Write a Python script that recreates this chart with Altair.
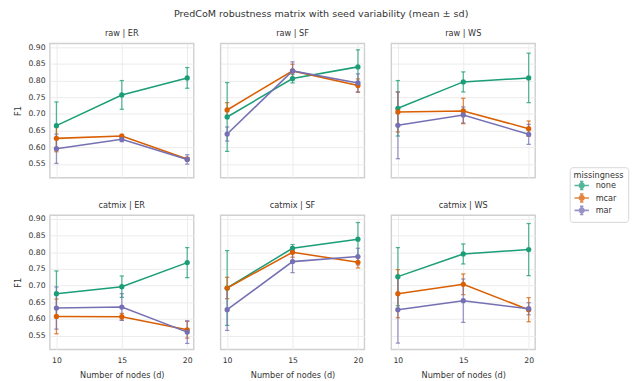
import altair as alt
import pandas as pd

panels = ["raw | ER", "raw | SF", "raw | WS", "catmix | ER", "catmix | SF", "catmix | WS"]
nodes = [10, 15, 20]
missingness = ["none", "mcar", "mar"]
colors = ["#1b9e77", "#d95f02", "#7570b3"]

# mean F1 per panel (rows follow `panels`), columns follow `nodes`
mean_none = [[0.665, 0.757, 0.808], [0.691, 0.806, 0.841], [0.717, 0.796, 0.808],
             [0.676, 0.697, 0.769], [0.693, 0.812, 0.839], [0.727, 0.795, 0.808]]
sd_none = [[0.071, 0.043, 0.031], [0.103, 0.013, 0.051], [0.083, 0.030, 0.074],
           [0.068, 0.032, 0.045], [0.112, 0.011, 0.050], [0.087, 0.030, 0.078]]
mean_mcar = [[0.627, 0.634, 0.565], [0.712, 0.829, 0.785], [0.706, 0.709, 0.656],
             [0.608, 0.607, 0.568], [0.693, 0.800, 0.770], [0.676, 0.704, 0.628]]
sd_mcar = [[0.040, 0.005, 0.005], [0.022, 0.020, 0.020], [0.060, 0.038, 0.023],
           [0.052, 0.010, 0.025], [0.032, 0.015, 0.017], [0.072, 0.031, 0.036]]
mean_mar = [[0.596, 0.624, 0.564], [0.640, 0.829, 0.793], [0.666, 0.697, 0.639],
            [0.633, 0.636, 0.561], [0.628, 0.772, 0.787], [0.628, 0.655, 0.631]]
sd_mar = [[0.044, 0.007, 0.014], [0.021, 0.027, 0.027], [0.100, 0.024, 0.030],
          [0.063, 0.040, 0.034], [0.062, 0.033, 0.025], [0.100, 0.065, 0.018]]

y_ticks = [0.55, 0.60, 0.65, 0.70, 0.75, 0.80, 0.85, 0.90]

series = {"none": (mean_none, sd_none), "mcar": (mean_mcar, sd_mcar), "mar": (mean_mar, sd_mar)}
rows = []
for m in missingness:
    means, sds = series[m]
    for p_i, p in enumerate(panels):
        for n_i, d in enumerate(nodes):
            mu = means[p_i][n_i]
            s = sds[p_i][n_i]
            rows.append({"panel": p, "d": d, "miss": m,
                         "mean": mu, "lo": mu - s, "hi": mu + s})
df = pd.DataFrame(rows)

FONT = "DejaVu Sans"
TXT = "#333333"

xs = alt.Scale(domain=[9.5, 20.5], nice=False, zero=False)
ys = alt.Scale(domain=[0.509, 0.911], nice=False, zero=False)
x_enc = alt.X("d:Q", scale=xs, axis=alt.Axis(values=nodes, format="d", title="Number of nodes (d)",
                                             labelPadding=7))
y_axis = alt.Axis(values=y_ticks, format=".2f", title="F1")

sym_path = ("M-1.7,0H1.7M0,-0.95V0.95M-0.4,-0.95H0.4M-0.4,0.95H0.4"
            "M0.55,0A0.55,0.55,0,1,1,-0.55,0A0.55,0.55,0,1,1,0.55,0Z")

legend = alt.Legend(
    title="missingness", orient="none", legendX=542, legendY=129,
    symbolType=sym_path, symbolSize=78, symbolStrokeWidth=1.6,
    strokeColor="#d5d5d5", fillColor="white", padding=4, cornerRadius=3,
    titleFontSize=8.5, labelFontSize=8.5, titleFontWeight="normal",
    titleColor=TXT, labelColor=TXT, titleFont=FONT, labelFont=FONT,
    rowPadding=-2, titlePadding=1, labelOffset=9, symbolOffset=3,
)
cscale = alt.Scale(domain=missingness, range=colors)
color = alt.Color("miss:N", sort=missingness, scale=cscale, legend=legend)
stroke = alt.Stroke("miss:N", sort=missingness, scale=cscale, legend=legend)

line = alt.Chart().mark_line(strokeWidth=1.6).encode(
    x=x_enc, y=alt.Y("mean:Q", scale=ys, axis=y_axis), color=color,
    order=alt.Order("d:Q"), detail="miss:N")
err = alt.Chart().mark_errorbar(ticks={"size": 4.5}, thickness=1.3, opacity=0.75).encode(
    x=x_enc, y=alt.Y("lo:Q", scale=ys, axis=y_axis), y2="hi:Q", color=color)
pts = alt.Chart().mark_point(filled=True, size=30, opacity=1, strokeWidth=0.01).encode(
    x=x_enc, y=alt.Y("mean:Q", scale=ys, axis=y_axis), color=color, stroke=stroke)

chart = alt.layer(line, err, pts, data=df).properties(
    width=150, height=140
).facet(
    facet=alt.Facet("panel:N", sort=panels, title=None,
                    header=alt.Header(labelFontSize=8.5, labelColor=TXT, labelFont=FONT,
                                      labelPadding=6)),
    columns=3, spacing={"row": 22, "column": 26}
).properties(
    title=alt.Title("PredCoM robustness matrix with seed variability (mean ± sd)",
                    fontSize=10, font=FONT, color=TXT, fontWeight="normal",
                    anchor="middle", offset=10),
    padding={"left": 14, "top": 1, "right": 5, "bottom": 5}
).configure_view(
    stroke="#d0d0d0", strokeWidth=1.5
).configure_axis(
    labelFontSize=8, titleFontSize=8.5, labelFont=FONT, titleFont=FONT,
    labelColor=TXT, titleColor=TXT, titleFontWeight="normal",
    grid=True, gridColor="#ebebeb", gridWidth=1, domain=False,
    ticks=False, labelPadding=4, titlePadding=6,
)

chart.save("out.html", embed_options={"renderer": "svg", "actions": False})
